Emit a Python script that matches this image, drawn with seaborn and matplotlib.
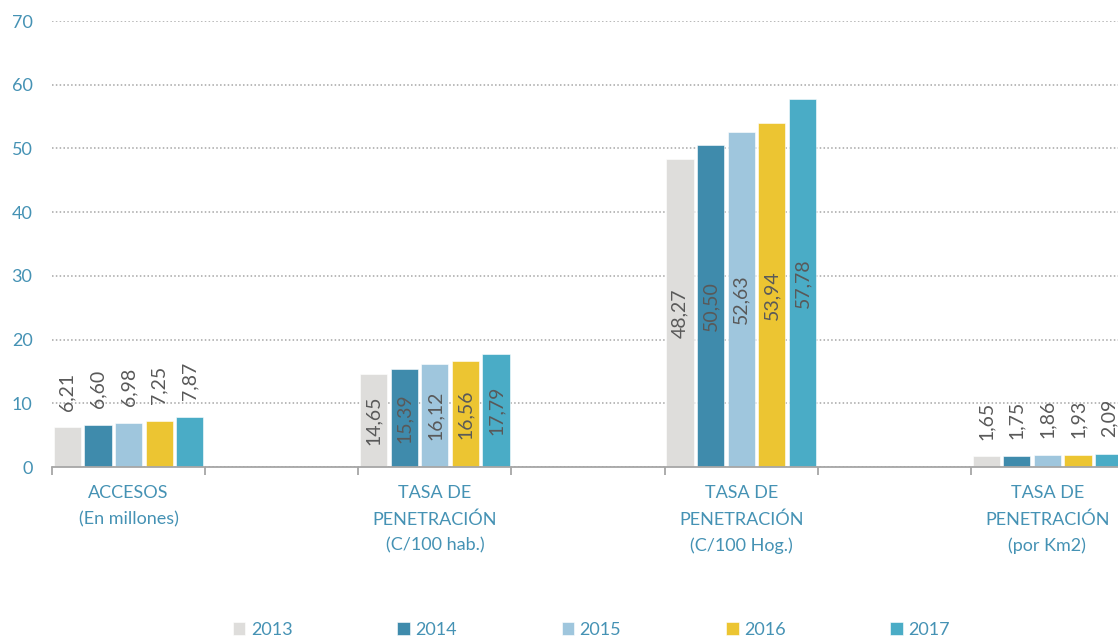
import matplotlib
matplotlib.use("Agg")
import matplotlib.pyplot as plt
import pandas as pd
import seaborn as sns

# %% data
years = ["2013", "2014", "2015", "2016", "2017"]
groups = ["ACCESOS\n(En millones)", " ",
          "TASA DE\nPENETRACIÓN\n(C/100 hab.)", "  ",
          "TASA DE\nPENETRACIÓN\n(C/100 Hog.)", "   ",
          "TASA DE\nPENETRACIÓN\n(por Km2)"]
accesos = [6.21, 6.60, 6.98, 7.25, 7.87]
pen_hab = [14.65, 15.39, 16.12, 16.56, 17.79]
pen_hog = [48.27, 50.50, 52.63, 53.94, 57.78]
pen_km2 = [1.65, 1.75, 1.86, 1.93, 2.09]
colors = ["#DEDDDB", "#3F8BAC", "#9FC6DD", "#ECC532", "#4AACC6"]
blue = "#4592B4"
grey_txt = "#595959"

series = {groups[0]: accesos, groups[2]: pen_hab, groups[4]: pen_hog, groups[6]: pen_km2}
inside = {groups[2], groups[4]}  # etiquetas centradas dentro de la barra

rows = []
for g, vals in series.items():
    for yr, v in zip(years, vals):
        rows.append({"grupo": g, "anio": yr, "valor": v})
df = pd.DataFrame(rows)

# %% figura
plt.rcParams["font.family"] = ["Lato", "DejaVu Sans"]
fig = plt.figure(figsize=(11.18, 6.4), dpi=100, facecolor="white")
ax = fig.add_axes([52 / 1118, 173 / 640, 1072 / 1118, 446 / 640])

sns.barplot(data=df, x="grupo", y="valor", hue="anio", order=groups,
            hue_order=years, palette=colors, width=1.0, gap=0.11,
            edgecolor="white", linewidth=0.4, saturation=1, ax=ax,
            legend=True)

ax.set_xlim(-0.5, 6.5)
ax.set_ylim(0, 70)
ax.set_yticks(range(0, 71, 10))
ax.yaxis.grid(True, ls=(0, (1, 1.5)), color="#A6A6A6", lw=1.1)
ax.set_axisbelow(True)
for s in ["top", "right", "left"]:
    ax.spines[s].set_visible(False)
ax.spines["bottom"].set_color("#A6A6A6")
ax.spines["bottom"].set_linewidth(1.3)
ax.tick_params(axis="y", length=0, pad=14, labelsize=13, labelcolor=blue)

# ticks de separación en los bordes, etiquetas en el centro
ax.set_xticks([i - 0.5 for i in range(8)])
ax.set_xticklabels([])
ax.tick_params(axis="x", which="major", length=6, width=1.3, color="#A6A6A6")
ax.set_xticks(range(7), minor=True)
ax.set_xticklabels(groups, minor=True, linespacing=1.75)
ax.tick_params(axis="x", which="minor", length=0, pad=13, labelsize=13,
               labelcolor=blue)
ax.set_xlabel("")
ax.set_ylabel("")

# etiquetas de valor
for p in ax.patches:
    h = p.get_height()
    if not h or h != h:
        continue
    xc = p.get_x() + p.get_width() / 2
    cat = groups[int(round(xc))]
    txt = f"{h:.2f}".replace(".", ",")
    if cat in inside:
        ax.text(xc, h / 2, txt, rotation=90, ha="center", va="center",
                fontsize=14, color=grey_txt)
    else:
        ax.annotate(txt, (xc, h), xytext=(0, 12), textcoords="offset points",
                    rotation=90, ha="center", va="bottom", fontsize=14,
                    color=grey_txt)

handles, labels = ax.get_legend_handles_labels()
ax.get_legend().remove()
leg = fig.legend(handles, labels, loc="center", bbox_to_anchor=(0.529, 10 / 640),
                 ncol=5, frameon=False, fontsize=13, handlelength=0.7,
                 handleheight=0.7, handletextpad=0.3, columnspacing=5.8)
for t in leg.get_texts():
    t.set_color(blue)

fig.savefig("out.png", dpi=100, facecolor="white")
